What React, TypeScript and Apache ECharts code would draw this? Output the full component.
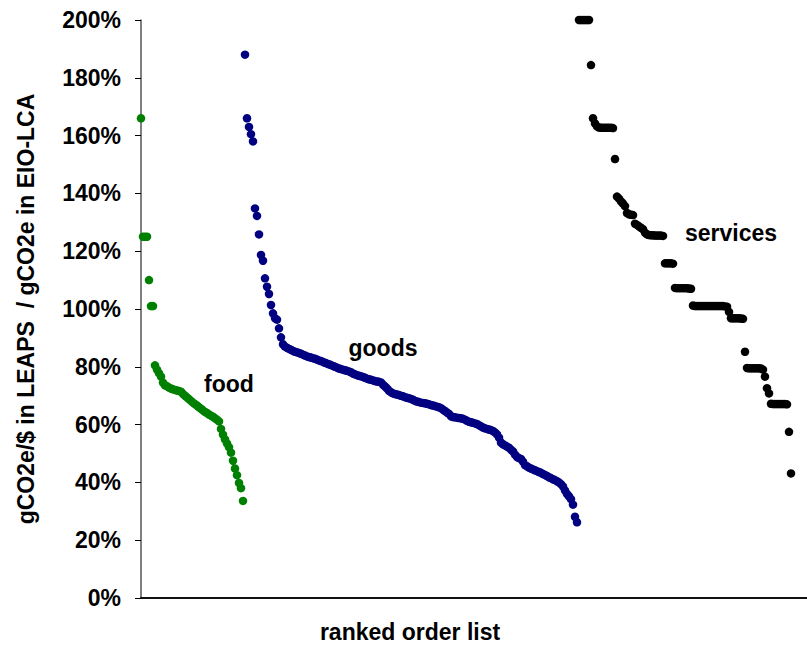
import React, { useEffect, useRef } from "react";
import * as echarts from "echarts";

// ranked-order values (% of EIO-LCA), each series continues the rank sequence
const foodStart = 0;
const foodValues = [
  166, 125, 125, 125, 110, 101, 101, 80.5, 79, 77.8, 76.6, 74.5, 73.6, 73.3, 72.8, 72.5, 72.2, 72, 71.8, 71.6,
  71.4, 70.6, 70, 69.4, 68.8, 68.2, 67.6, 67.1, 66.6, 66, 65.5, 64.9, 64.4, 64, 63.5, 63.1, 62.7, 62.2, 61.7, 61.1,
  58.5, 56.5, 54.9, 53.5, 52.2, 50.3, 47.5, 44.8, 42.5, 39.8, 38, 33.6,
];

const goodsStart = 52;
const goodsValues = [
  188, 166, 163, 160.5, 158, 134.8, 132.2, 125.8, 118.7, 116.7, 110.6, 107.7, 105.2, 101.4, 98.5, 96.8, 96.3, 93.3,
  90.2, 87.8, 87.0, 86.6,
  86.2, 85.9, 85.5, 85.2, 85.0, 84.8, 84.5, 84.2, 83.9, 83.6,
  83.4, 83.2, 83.0, 82.8, 82.5, 82.2, 82.0, 81.7, 81.4, 81.1,
  80.9, 80.6, 80.3, 80.0, 79.7, 79.4, 79.2, 79.0, 78.8, 78.6,
  78.4, 78.1, 77.7, 77.4, 77.1, 76.9, 76.7, 76.5, 76.2, 75.9,
  75.7, 75.5, 75.3, 75.1, 74.9, 74.8, 74.6, 73.8, 73.2, 72.5,
  71.7, 71.2, 70.8, 70.6, 70.4, 70.2, 70.0, 69.8, 69.5, 69.3,
  69.1, 68.9, 68.6, 68.2, 68.0, 67.8, 67.6, 67.5, 67.4, 67.2,
  67.0, 66.8, 66.6, 66.4, 66.2, 66.0, 65.7, 65.2, 64.7, 64.2,
  63.7, 62.9, 62.6, 62.5, 62.4, 62.3, 62.2, 62.0, 61.7, 61.3,
  61.0, 60.8, 60.6, 60.4, 60.2, 59.8, 59.4, 59.0, 58.7, 58.5,
  58.3, 58.1, 57.8, 57.3, 56.6, 55.5, 53.8, 53.2, 52.8, 52.4,
  52.0, 51.3, 50.7, 49.6, 48.8, 48.4, 48.1, 47.2, 46.0, 45.6,
  45.1, 44.8, 44.5, 44.2, 43.9, 43.6, 43.3, 42.9, 42.6, 42.2,
  41.8, 41.5, 41.1, 40.8, 40.4, 40.0, 39.4, 38.6, 37.2, 36.0,
  35.2, 34.2, 32.3, 28.1, 26.2,
];

const servicesStart = 219;
const servicesValues = [
  200, 200, 200, 200, 200, 200, 184.4, 166, 164.2, 163.2,
  162.8, 162.7, 162.7, 162.7, 162.7, 162.7, 162.7, 162.6, 151.9, 138.9,
  138.2, 137.2, 136.5, 135.6, 133.2, 132.8, 132.6, 132.5, 129.5, 129.1,
  128.6, 128.1, 127.6, 126.4, 125.8, 125.6, 125.5, 125.5, 125.4, 125.4,
  125.4, 125.4, 125.3, 115.8, 115.8, 115.8, 115.8, 115.7, 107.3, 107.2,
  107.2, 107.2, 107.2, 107.2, 107.2, 107.1, 107.0, 101.2, 101.0, 101.0,
  101.0, 101.0, 101.0, 101.0, 101.0, 101.0, 101.0, 101.0, 101.0, 101.0,
  101.0, 101.0, 101.0, 100.9, 100.8, 99.0, 96.8, 96.8, 96.8, 96.8,
  96.8, 96.7, 96.6, 85.2, 79.6, 79.5, 79.5, 79.5, 79.5, 79.5,
  79.5, 79.4, 79.0, 76.6, 72.6, 70.8, 67.2, 67.1, 67.1, 67.1,
  67.1, 67.1, 67.1, 67.1, 67.0, 57.5, 43.1,
];

const rankMax = 333;
const yTicks = [0, 20, 40, 60, 80, 100, 120, 140, 160, 180, 200];
const groupLabels = ["food", "goods", "services"];
const yAxisTitle = "gCO2e/$ in LEAPS  / gCO2e in EIO-LCA";
const xAxisTitle = "ranked order list";

const FONT = '"Liberation Sans", Arial, Helvetica, sans-serif';
const FS = 23;

function toPoints(start: number, values: number[]) {
  return values.map((v, i) => [start + i, v]);
}

export default function App() {
  const ref = useRef<HTMLDivElement>(null);
  useEffect(() => {
    if (!ref.current) return;
    const chart = echarts.init(ref.current, null, { renderer: "svg" });
    const labelStyle = (text: string, x: number, y: number) => ({
      type: "text",
      x,
      y,
      style: {
        text,
        fontFamily: FONT,
        fontWeight: "bold",
        fontSize: FS,
        fill: "#000",
        align: "center",
        verticalAlign: "middle",
      },
      z: 100,
    });
    chart.setOption({
      animation: false,
      backgroundColor: "#fff",
      grid: { left: 141, right: 0, top: 20, bottom: 47, containLabel: false },
      xAxis: {
        type: "value",
        min: 0,
        max: rankMax,
        axisLine: { show: true, onZero: false, lineStyle: { color: "#111", width: 2 } },
        axisTick: { show: false },
        axisLabel: { show: false },
        splitLine: { show: false },
      },
      yAxis: {
        type: "value",
        min: yTicks[0],
        max: yTicks[yTicks.length - 1],
        interval: 20,
        name: yAxisTitle,
        nameLocation: "middle",
        nameGap: 104,
        nameRotate: 90,
        nameTextStyle: { fontFamily: FONT, fontWeight: "bold", fontSize: FS, color: "#000" },
        axisLine: { show: true, lineStyle: { color: "#555", width: 1.5 } },
        axisTick: { show: true, inside: false, length: 6, lineStyle: { color: "#000", width: 1 } },
        axisLabel: {
          formatter: "{value}%",
          fontFamily: FONT,
          fontWeight: "bold",
          fontSize: FS,
          color: "#000",
          margin: 20,
        },
        splitLine: { show: false },
      },
      series: [
        {
          name: groupLabels[0],
          type: "scatter",
          symbolSize: 8.5,
          itemStyle: { color: "#008000", opacity: 1 },
          data: toPoints(foodStart, foodValues),
        },
        {
          name: groupLabels[1],
          type: "scatter",
          symbolSize: 8.5,
          itemStyle: { color: "#000080", opacity: 1 },
          data: toPoints(goodsStart, goodsValues),
        },
        {
          name: groupLabels[2],
          type: "scatter",
          symbolSize: 8.5,
          itemStyle: { color: "#000000", opacity: 1 },
          data: toPoints(servicesStart, servicesValues),
        },
      ],
      graphic: [
        labelStyle(groupLabels[0], 229, 384),
        labelStyle(groupLabels[1], 383, 348),
        labelStyle(groupLabels[2], 731, 233),
        labelStyle(xAxisTitle, 410, 632),
      ],
    });
    return () => chart.dispose();
  }, []);
  return <div ref={ref} style={{ position: "fixed", left: 0, top: 0, width: 807, height: 645 }} />;
}
